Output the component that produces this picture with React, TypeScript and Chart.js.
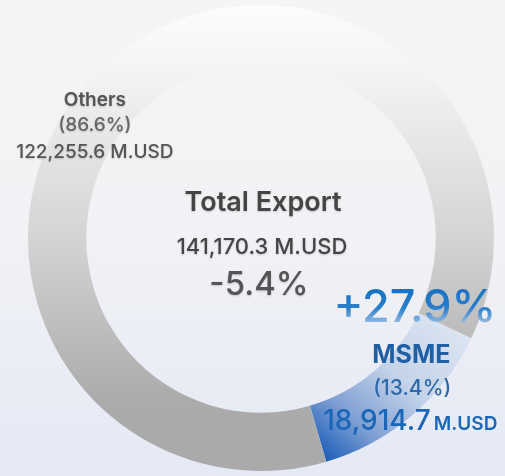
import React, { useEffect, useRef } from "react";
import { Chart, registerables } from "chart.js";

Chart.register(...registerables);

const categories = ["MSME", "Others"];
const values = [18914.7, 122255.6];
const shareLabels = ["(13.4%)", "(86.6%)"];
const valueLabels = ["18,914.7", "122,255.6"];
const unitLabel = "M.USD";
const totalTitle = "Total Export";
const totalValue = "141,170.3";
const totalGrowth = "-5.4%";
const msmeGrowth = "+27.9%";

const FONT = "Inter, 'Noto Sans', sans-serif";

function geo(chart: any) {
  const a = chart.chartArea;
  const cx = (a.left + a.right) / 2;
  const cy = (a.top + a.bottom) / 2;
  const r = Math.min(a.right - a.left, a.bottom - a.top) / 2;
  return { cx, cy, r, a };
}

const labelPlugin = {
  id: "labels",
  afterDraw(chart: any) {
    const ctx = chart.ctx as CanvasRenderingContext2D;
    const { cx, cy, r } = geo(chart);
    ctx.save();
    ctx.textBaseline = "alphabetic";
    ctx.textAlign = "center";

    const put = (t: string, x: number, y: number, font: string, color: any, shadow = true) => {
      ctx.font = font;
      ctx.fillStyle = color;
      if (shadow) {
        ctx.shadowColor = "rgba(0,0,0,0.18)";
        ctx.shadowBlur = 2;
        ctx.shadowOffsetY = 1;
      } else {
        ctx.shadowColor = "transparent";
      }
      ctx.fillText(t, x, y);
    };

    // Others (top-left)
    const ox = cx - 0.713 * r;
    put(categories[1], ox, cy - 0.567 * r, `600 19px ${FONT}`, "#555555");
    put(shareLabels[1], ox, cy - 0.46 * r, `500 19px ${FONT}`, "#666666");
    put(`${valueLabels[1]} ${unitLabel}`, ox, cy - 0.343 * r, `500 19px ${FONT}`, "#555555");

    // Centre
    put(totalTitle, cx + 2, cy - 0.116 * r, `600 27px ${FONT}`, "#454545");
    put(`${totalValue} ${unitLabel}`, cx + 1, cy + 0.067 * r, `500 22px ${FONT}`, "#454545");
    put(totalGrowth, cx - 2, cy + 0.245 * r, `500 33px ${FONT}`, "#555555");

    // MSME growth with gradient
    const gx = cx + 0.66 * r;
    const gy = cy + 0.36 * r;
    const tg = ctx.createLinearGradient(0, gy - 34, 0, gy);
    tg.addColorStop(0, "#1670c4");
    tg.addColorStop(0.6, "#2a7fcc");
    tg.addColorStop(1, "#8db7df");
    put(msmeGrowth, gx, gy, `500 45px ${FONT}`, tg, false);

    const mx = cx + 0.645 * r;
    put(categories[0], mx, cy + 0.535 * r, `700 25px ${FONT}`, "#1f5fa6", false);
    put(shareLabels[0], mx + 1, cy + 0.672 * r, `500 21px ${FONT}`, "#2d68ad", false);

    ctx.textAlign = "left";
    const vx = cx + 0.267 * r;
    const vy = cy + 0.823 * r;
    put(valueLabels[0], vx, vy, `500 28px ${FONT}`, "#1a66b8", false);
    ctx.font = `500 28px ${FONT}`;
    const w = ctx.measureText(valueLabels[0]).width;
    put(unitLabel, vx + w + 3, vy, `600 19px ${FONT}`, "#1a66b8", false);
    ctx.restore();
  },
};

export default function App() {
  const ref = useRef<HTMLCanvasElement | null>(null);
  useEffect(() => {
    if (!ref.current) return;
    const chart = new Chart(ref.current, {
      type: "doughnut",
      data: {
        labels: categories,
        datasets: [
          {
            data: values,
            borderWidth: 0,
            backgroundColor: (c: any) => {
              const ch = c.chart;
              if (!ch.chartArea) return "#ccc";
              const { cx, cy, r, a } = geo(ch);
              const g = ch.ctx as CanvasRenderingContext2D;
              if (c.dataIndex === 0) {
                const gr = g.createLinearGradient(cx + 0.88 * r, cy + 0.33 * r, cx + 0.3 * r, cy + 0.98 * r);
                gr.addColorStop(0, "#e0e8f3");
                gr.addColorStop(0.45, "#c4d3e9");
                gr.addColorStop(0.75, "#7f9fd3");
                gr.addColorStop(1, "#1a5cb8");
                return gr;
              }
              const gr = g.createLinearGradient(0, a.top, 0, a.bottom);
              gr.addColorStop(0, "#fdfdfd");
              gr.addColorStop(0.15, "#f3f3f3");
              gr.addColorStop(0.5, "#d4d4d4");
              gr.addColorStop(0.85, "#ababab");
              gr.addColorStop(1, "#aaaaaa");
              return gr;
            },
          },
        ],
      },
      options: {
        responsive: false,
        animation: false,
        events: [],
        rotation: 115.5,
        cutout: "75%",
        layout: { padding: { left: 28, right: 11, top: 5, bottom: 5 } },
        plugins: {
          legend: { display: false },
          tooltip: { enabled: false },
        },
      },
      plugins: [labelPlugin],
    });
    return () => chart.destroy();
  }, []);

  return (
    <div
      style={{
        position: "fixed",
        left: 0,
        top: 0,
        width: 505,
        height: 476,
        background: "linear-gradient(180deg, #f5f5f5 0%, #f1f2f5 50%, #e4e9f5 100%)",
      }}
    >
      <canvas ref={ref} width={505} height={476} style={{ display: "block" }} />
    </div>
  );
}
